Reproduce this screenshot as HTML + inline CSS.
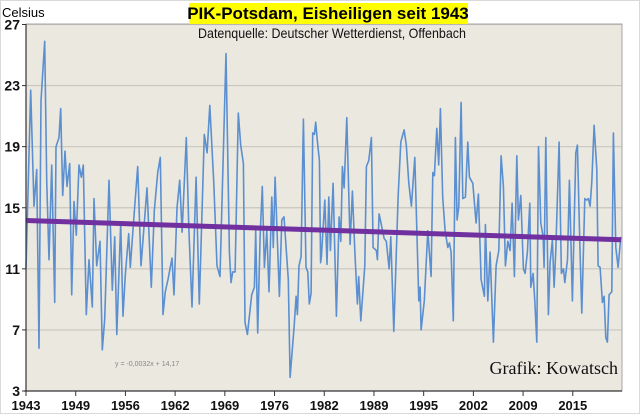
<!DOCTYPE html>
<html><head><meta charset="utf-8">
<style>
html,body{margin:0;padding:0;background:#fff;}
svg{display:block;}
text{font-family:"Liberation Sans",sans-serif;}
</style></head>
<body>
<svg id="chart" width="640" height="414" viewBox="0 0 640 414" xmlns="http://www.w3.org/2000/svg">
  <rect x="0.5" y="0.5" width="639" height="413" fill="#fff" stroke="#d9d9d9"/>
  <rect x="26" y="24" width="596" height="367" fill="#ebe8e0"/>
  <g id="grid"></g>
  <g id="yticks"></g>
  <g id="xticks"></g>
  <g id="series"></g>
  <rect x="26" y="24" width="596" height="367" fill="none" stroke="#a6a6a6" stroke-width="1"/>
  <line x1="26" y1="24" x2="26" y2="392" stroke="#333" stroke-width="1.2"/>
  <line x1="24" y1="391" x2="622" y2="391" stroke="#333" stroke-width="1.2"/>
  <text x="2" y="17" font-size="13" fill="#000">Celsius</text>
  <rect x="189" y="3" width="279" height="21" fill="#ffff00"/>
  <text x="328" y="19" font-size="17" font-weight="bold" text-anchor="middle" fill="#000">PIK-Potsdam, Eisheiligen seit 1943</text>
  <text x="332" y="38" font-size="14" text-anchor="middle" fill="#111" textLength="268" lengthAdjust="spacingAndGlyphs">Datenquelle: Deutscher Wetterdienst, Offenbach</text>
  <text x="115" y="366" font-size="7" fill="#888">y = -0,0032x + 14,17</text>
  <text x="618" y="374" font-size="18" text-anchor="end" fill="#111" style="font-family:'Liberation Serif',serif">Grafik: Kowatsch</text>
</svg>
<script>
// Data: year offsets since 1943 and temperatures (°C)
const yearOffsets = [0,0.62,1.06,1.42,1.73,1.99,2.48,2.75,3.05,3.41,3.81,3.98,4.38,4.61,4.87,5.18,5.44,5.80,6.07,6.37,6.68,7.04,7.34,7.61,8.01,8.37,8.80,9.03,9.39,9.83,10.13,10.45,11.02,11.46,11.78,12.05,12.58,12.88,13.19,13.64,13.85,14.30,14.83,15.27,16.07,16.64,17.04,17.49,17.83,18.19,18.50,18.86,19.39,19.65,20.05,20.41,20.72,21.29,21.61,22.04,22.58,23.01,23.68,24.04,24.40,24.93,25.36,25.76,26.56,27.00,27.22,27.45,27.76,28.19,28.51,28.86,29.08,29.39,29.97,30.32,30.50,30.77,31.08,31.38,31.65,31.97,32.27,32.63,32.84,33.07,33.64,33.96,34.26,34.83,35.06,35.59,35.86,36.03,36.25,36.52,36.83,37.18,37.41,37.62,37.85,38.07,38.29,38.47,38.68,38.95,39.11,39.22,39.67,39.97,40.20,40.41,40.77,41.21,41.57,41.80,42.01,42.23,42.59,43.03,43.34,43.65,44.00,44.18,44.45,44.98,45.19,45.51,45.86,46.08,46.52,46.65,46.88,47.18,47.54,47.84,48.21,48.43,48.83,49.40,49.76,50.20,50.50,50.82,51.17,51.62,52.15,52.32,52.46,52.89,53.35,53.78,54.01,54.22,54.54,54.80,55.02,55.33,55.64,56.00,56.21,56.44,56.74,57.01,57.24,57.46,57.77,57.99,58.34,58.66,58.87,59.32,59.76,60.06,60.42,60.86,60.99,61.31,61.62,62.06,62.42,62.77,63.08,63.39,63.65,63.97,64.28,64.54,64.85,65.17,65.38,65.70,66.04,66.27,66.57,66.89,67.03,67.33,67.56,67.82,68.04,68.35,68.66,68.79,69.02,69.36,69.59,69.89,70.12,70.34,70.78,71.09,71.36,71.54,71.89,72.15,72.55,73.00,73.21,73.53,73.80,74.19,74.46,74.67,74.90,75.12,75.43,75.79,75.96,76.23,76.53,76.76,76.98,77.19,77.42,77.78,77.99,78.31,78.62,78.98];
const temps = [11.0,22.7,15.1,17.5,5.8,22,25.9,16.8,11.6,17.8,8.8,19,19.6,21.5,15.8,18.7,16.4,17.9,9.3,15.4,13.2,17.8,17,17.8,8,11.6,8.5,15.6,11.2,12.8,5.7,7.7,16.8,9.6,13.1,6.7,14,7.9,10.6,13.3,11.1,14.2,17.7,11.2,16.3,9.8,14.8,17.3,18.3,8,9.5,10.3,11.7,9.3,15,16.8,13.4,19.6,13.7,8.5,17,8.7,19.8,18.6,21.7,16.6,11.2,10.5,25.1,12.1,10.1,10.8,10.8,21.2,19.1,17.9,7.5,6.7,9.3,9.8,13.5,6.8,13.1,16.4,11.1,13.5,9.5,15.7,12.4,17,9.2,14.2,14.4,10.3,3.9,7.2,9.2,8,11.2,11.8,20.8,11.1,10.8,8.7,9.4,19.9,19.8,20.6,19.4,18.1,11.4,11.8,15.5,11.3,15.7,12.2,16.6,7.9,14.4,12.8,17.7,16.3,20.9,12.6,16.1,12.2,8.7,10.5,7.6,11.2,17.7,18.1,19.6,12.4,12.2,11.6,14.6,13.9,13,12.8,11,13.1,6.9,15.7,19.3,20.1,19.1,16.6,15.1,18.3,8.9,9.8,7,8.9,13.5,10.5,17.3,17.1,20.2,17.8,21.5,15.7,13.5,12.4,12.7,12.1,7.6,19.6,14.2,15.1,21.9,15.6,15.7,19.3,17,16.6,14,15.9,10.3,9.2,13.9,8.9,12.1,6.2,11.2,12.2,18.4,16.4,11.2,12.8,12.2,15.3,10.5,18.4,14.2,15.8,11,10.7,12.1,15.3,9.8,10.7,8.9,6.2,19,14,13.1,11.1,19.6,8,11.4,12.9,9.8,12.2,19.3,10.7,11,10.1,11.6,16.8,8.9,18.6,19.1,12.7,8.1,15.6,15.5,15.6,15.1,16.7,20.4,17.5,11.2,11.1,8.8,9.2,6.5,6.2,9.3,9.5,19.9,12.4,11.1,13.1];
const yTicks = [3,7,11,15,19,23,27];
const xTickLabels = ["1943","1949","1956","1962","1969","1976","1982","1989","1995","2002","2009","2015"];
const xTickStepYears = [6.6];
const trendCoef = [-0.0032, 14.17];
const pointsPerYear = [5];
const yearSpan = [79];

const X0=26, X1=621, Y0=391, Y1=24.5;
const yMin=3, yMax=27;
function xScale(o){ return X0 + o/yearSpan[0]*(X1-X0); }
function yScale(v){ return Y0 - (v-yMin)/(yMax-yMin)*(Y0-Y1); }
const NS="http://www.w3.org/2000/svg";
function mk(tag, attrs, parent){ const e=document.createElementNS(NS,tag); for(const k in attrs) e.setAttribute(k,attrs[k]); parent.appendChild(e); return e; }

const grid=document.getElementById('grid'), yt=document.getElementById('yticks'), xt=document.getElementById('xticks'), ser=document.getElementById('series');
yTicks.forEach(v=>{
  const y=yScale(v);
  if(v>yMin){
    const g=mk('line',{x1:X0,x2:622,y1:y,y2:y,stroke:'#c9c6be','stroke-width':1.2},grid);
    
    
  }
  const tk=mk('line',{x1:X0-4,x2:X0,y1:y,y2:y,stroke:'#333'},yt);
  
  
  const t=mk('text',{x:20,y:y+5,'font-size':14,'font-weight':'bold','text-anchor':'end',fill:'#111'},yt);
  t.textContent=String(v);
  
  
});
xTickLabels.forEach((lab,i)=>{
  const x=xScale(i*xTickStepYears[0]);
  const tk=mk('line',{x1:x,x2:x,y1:Y0,y2:Y0+5,stroke:'#333'},xt);
  
  
  const t=mk('text',{x:x,y:410,'font-size':13,'font-weight':'bold','text-anchor':'middle',fill:'#111'},xt);
  t.textContent=lab;
  
  
});
const d=yearOffsets.map((o,i)=>(i?'L':'M')+xScale(o).toFixed(1)+','+yScale(temps[i]).toFixed(1)).join(' ');
const line=mk('path',{d:d,fill:'none',stroke:'#5b8fd0','stroke-width':1.6,'stroke-linejoin':'round'},ser);


const nPts=yearSpan[0]*pointsPerYear[0];
const tStart=trendCoef[1]+trendCoef[0]*1, tEnd=trendCoef[1]+trendCoef[0]*nPts;
const tr=mk('line',{x1:X0,y1:yScale(tStart),x2:X1,y2:yScale(tEnd),stroke:'#7030a0','stroke-width':5},ser);


</script>
</body></html>
